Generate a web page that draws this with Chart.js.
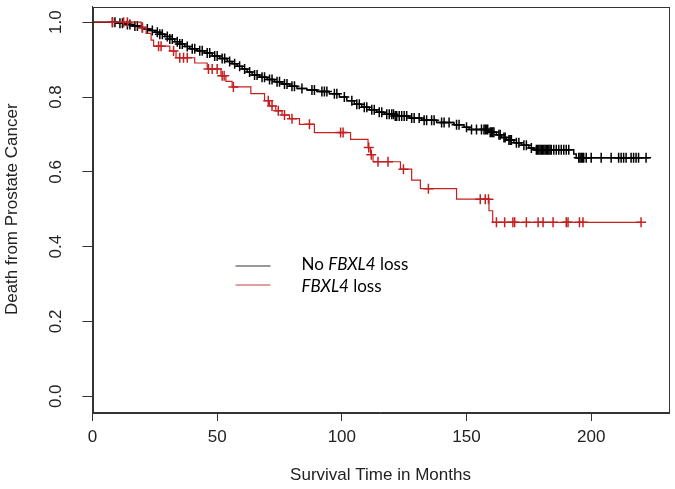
<!DOCTYPE html>
<html>
<head>
<meta charset="utf-8">
<title>Death from Prostate Cancer by FBXL4 status</title>
<script src="https://cdn.jsdelivr.net/npm/chart.js@4.4.1/dist/chart.umd.min.js"></script>
<style>
    html, body { margin: 0; padding: 0; background: #fff; }
    #km { display: block; }
</style>
</head>
<body>
<canvas id="km" width="675" height="489"></canvas>
<script>
// No FBXL4 loss: event times (months) and survival right after each event
const noLossTimes = [10, 13, 16, 19, 21, 23, 25, 27, 29, 31, 33, 35, 37, 39, 42, 45, 48, 51, 54, 56, 58, 60, 62, 64,
    67, 70, 73, 76, 79, 82, 86, 90, 95, 99, 102, 105, 108, 111, 114, 117, 121, 127, 132, 138, 145, 149, 151,
    159, 162, 164, 166, 169, 172, 175, 177, 193, 194];
const noLossSurv = [0.997, 0.994, 0.990, 0.986, 0.982, 0.978, 0.973, 0.968, 0.962, 0.955, 0.948, 0.942, 0.935, 0.929,
    0.924, 0.918, 0.910, 0.903, 0.895, 0.889, 0.882, 0.875, 0.867, 0.859, 0.853, 0.847, 0.841, 0.835, 0.829,
    0.823, 0.819, 0.815, 0.809, 0.800, 0.790, 0.781, 0.773, 0.766, 0.759, 0.754, 0.749, 0.744, 0.738, 0.732,
    0.726, 0.719, 0.713, 0.706, 0.699, 0.692, 0.685, 0.678, 0.671, 0.664, 0.659, 0.648, 0.638];
const noLossCensored = [8, 9, 11, 12, 14, 15, 17, 18, 20, 22, 24, 26, 27, 28, 30, 31, 32, 34, 35, 36, 38, 40, 41, 43,
    44, 46, 47, 49, 50, 52, 53, 55, 57, 59, 61, 63, 65, 66, 68, 69, 71, 72, 74, 75, 77, 78, 80, 81, 84, 88, 89,
    92, 93, 94, 97, 98, 101, 104, 106, 107, 109, 110, 112, 113, 115, 116, 118, 119, 120, 120.7, 121.4, 122, 123,
    124, 125, 126, 128, 129, 131, 133, 134, 136, 137, 140, 141, 143, 146, 147, 150, 152, 154, 156, 157, 157.5,
    158, 158.5, 159.5, 160, 160.5, 161, 163, 163.5, 165, 165.5, 167, 167.5, 168, 170, 171, 173, 174, 176, 178,
    178.5, 179, 179.5, 180, 180.5, 181, 181.5, 182, 182.5, 183, 183.5, 184, 185, 186, 187, 188, 189, 190, 191,
    195, 195.5, 196, 196.5, 197, 198, 200, 204, 208, 211, 212, 213, 214, 216, 217, 218, 219, 222];
const noLossLastFollowUp = 223.5;

// FBXL4 loss
const lossTimes = [19.5, 21.5, 23.5, 24.5, 31, 33.5, 41, 46, 51.5, 53.5, 56, 63.5, 69, 71, 73.5, 76, 79, 83, 89,
    103.5, 110.5, 111.5, 112.5, 123.5, 128, 131.5, 146, 159, 160.5];
const lossSurv = [0.985, 0.970, 0.952, 0.936, 0.923, 0.905, 0.891, 0.875, 0.857, 0.842, 0.827, 0.809, 0.790, 0.776,
    0.763, 0.752, 0.742, 0.727, 0.705, 0.687, 0.665, 0.646, 0.627, 0.607, 0.578, 0.555, 0.527, 0.496, 0.465];
const lossCensored = [8, 12.5, 14, 20, 26.5, 27.5, 32.5, 35, 36.5, 38, 46.5, 48, 50, 52, 52.8, 56.5, 70.5, 72, 74.5,
    77, 80, 87, 99.5, 100.5, 110.8, 111.8, 114.5, 118.5, 124.7, 134.7, 155.5, 157.5, 158.8, 162, 165.3, 168.6,
    169.3, 174, 178.7, 180.7, 184.7, 190, 190.7, 195.3, 196.7, 220];
const lossLastFollowUp = 220;

const xTicks = [0, 50, 100, 150, 200];
const yTicks = [0, 0.2, 0.4, 0.6, 0.8, 1.0];
const yTickLabels = ['0.0', '0.2', '0.4', '0.6', '0.8', '1.0'];
const xTitle = 'Survival Time in Months';
const yTitle = 'Death from Prostate Cancer';
const legendRows = [['No ', 'FBXL4', ' loss'], ['', 'FBXL4', ' loss']];

(function() {
    'use strict';

    const AXIS = '#333';
    const BLACK = '#000';
    const RED = '#c42020';
    const axisFont = { family: "'Liberation Sans', Arial, sans-serif", size: 17 };

    // survival value of a step curve at time t
    function survivalAt(times, surv, t) {
        let s = 1;
        for (let i = 0; i < times.length; i++) {
            if (times[i] <= t) s = surv[i];
        }
        return s;
    }

    function curvePoints(times, surv, end) {
        const pts = [{ x: 0, y: 1 }];
        times.forEach(function(t, i) { pts.push({ x: t, y: surv[i] }); });
        pts.push({ x: end, y: surv[surv.length - 1] });
        return pts;
    }

    function censorPoints(times, surv, censored) {
        return censored.map(function(t) { return { x: t, y: survivalAt(times, surv, t) }; });
    }

    // box, rotated y labels (R style) and the legend
    const decorations = {
        id: 'decorations',
        afterDraw: function(chart) {
            const ctx = chart.ctx;
            const area = chart.chartArea;
            const yScale = chart.scales.y;

            ctx.save();
            ctx.strokeStyle = AXIS;
            ctx.lineWidth = 1;
            ctx.strokeRect(Math.round(area.left) + 0.5, Math.round(area.top) + 0.5,
                Math.round(area.right - area.left), Math.round(area.bottom - area.top));

            ctx.fillStyle = '#222';
            ctx.font = axisFont.size + 'px ' + axisFont.family;
            ctx.textAlign = 'center';
            ctx.textBaseline = 'middle';
            yTicks.forEach(function(v, i) {
                ctx.save();
                ctx.translate(area.left - 36, yScale.getPixelForValue(v));
                ctx.rotate(-Math.PI / 2);
                ctx.fillText(yTickLabels[i], 0, 0);
                ctx.restore();
            });

            // legend
            const colors = ['#333', '#c04040'];
            const lx = area.left + 143;
            const ly = [area.top + 259, area.top + 278];
            legendRows.forEach(function(row, i) {
                ctx.strokeStyle = colors[i];
                ctx.beginPath();
                ctx.moveTo(lx, ly[i] + 0.5);
                ctx.lineTo(lx + 35, ly[i] + 0.5);
                ctx.stroke();

                let x = lx + 66;
                ctx.fillStyle = '#000';
                ctx.textAlign = 'left';
                ctx.textBaseline = 'alphabetic';
                row.forEach(function(part, j) {
                    ctx.font = (j === 1 ? 'italic ' : '') + "17px Lato, 'Open Sans', sans-serif";
                    ctx.fillText(part, x, ly[i] + 4 + i * 3);
                    x += ctx.measureText(part).width;
                });
            });
            ctx.restore();
        }
    };

    new Chart(document.getElementById('km'), {
        type: 'scatter',
        data: {
            datasets: [{
                label: 'FBXL4 loss',
                data: curvePoints(lossTimes, lossSurv, lossLastFollowUp),
                showLine: true,
                stepped: 'before',
                borderColor: RED,
                borderWidth: 1.2,
                pointRadius: 0,
                order: 1
            }, {
                label: 'FBXL4 loss censored',
                data: censorPoints(lossTimes, lossSurv, lossCensored),
                showLine: false,
                pointStyle: 'cross',
                pointRadius: 5,
                borderColor: RED,
                borderWidth: 1.5,
                order: 0
            }, {
                label: 'No FBXL4 loss',
                data: curvePoints(noLossTimes, noLossSurv, noLossLastFollowUp),
                showLine: true,
                stepped: 'before',
                borderColor: BLACK,
                borderWidth: 1.5,
                pointRadius: 0,
                order: 3
            }, {
                label: 'No FBXL4 loss censored',
                data: censorPoints(noLossTimes, noLossSurv, noLossCensored),
                showLine: false,
                pointStyle: 'cross',
                pointRadius: 5,
                borderColor: BLACK,
                borderWidth: 1.5,
                order: 2
            }]
        },
        options: {
            responsive: false,
            animation: false,
            devicePixelRatio: 1,
            layout: { padding: { top: 5, right: 6, left: 0, bottom: 0 } },
            plugins: {
                legend: { display: false },
                tooltip: { enabled: false }
            },
            scales: {
                x: {
                    type: 'linear',
                    min: 0,
                    max: 231,
                    afterBuildTicks: function(scale) {
                        scale.ticks = xTicks.map(function(v) { return { value: v }; });
                    },
                    afterFit: function(scale) { scale.height = 77; },
                    ticks: {
                        color: '#222',
                        font: axisFont,
                        padding: 6,
                        maxRotation: 0,
                        callback: function(v) { return String(v); }
                    },
                    grid: { drawOnChartArea: false, drawTicks: true, tickLength: 9, color: AXIS },
                    border: { display: true, color: AXIS },
                    title: {
                        display: true,
                        text: xTitle,
                        color: '#222',
                        font: axisFont,
                        padding: { top: 0, bottom: 3 }
                    }
                },
                y: {
                    type: 'linear',
                    min: -0.042,
                    max: 1.042,
                    afterBuildTicks: function(scale) {
                        scale.ticks = yTicks.map(function(v) { return { value: v }; });
                    },
                    afterFit: function(scale) { scale.width = 92.5; },
                    ticks: { display: false },
                    grid: { drawOnChartArea: false, drawTicks: true, tickLength: 10, color: AXIS },
                    border: { display: true, color: AXIS },
                    title: {
                        display: true,
                        text: yTitle,
                        color: '#222',
                        font: axisFont,
                        padding: { top: 2, bottom: 0 }
                    }
                }
            }
        },
        plugins: [decorations]
    });
})();
</script>
</body>
</html>
